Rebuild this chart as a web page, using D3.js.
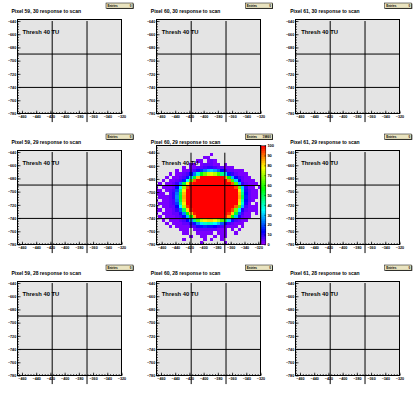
<!DOCTYPE html>
<html>
<head>
<meta charset="utf-8">
<script src="https://cdn.jsdelivr.net/npm/d3@7"></script>
<style>
body { margin: 0; background: #fff; }
svg { display: block; }
text { font-family: "Liberation Sans", Arial, Helvetica, sans-serif; }
</style>
</head>
<body>
<svg width="418" height="393"></svg>
<script>
// pixel numbers of the 3x3 pads
var pixelCols = ["59", "60", "61"];
var pixelRows = ["30", "29", "28"];
var entries = [["0", "0", "0"], ["0", "19860", "0"], ["0", "0", "0"]];
var threshText = "Thresh 40 TU";

var xTicks = [-460, -440, -420, -400, -380, -360, -340, -320];
var yTicks = [-780, -760, -740, -720, -700, -680, -660, -640];
var zTicks = [0, 10, 20, 30, 40, 50, 60, 70, 80, 90, 100];

// pixel boundary lines
var edgeX = [-417.5, -368.5];
var edgeY = [-690, -740.5];

// scan map of pixel 60,29 : 5x5 bins starting at (-470,-780), rows listed top to bottom
var binX0 = -470, binY0 = -780, binSize = 5;
var hitRows = [
  [0,0,0,0,0,0,0,0,0,0, 0,0,0,0,0,0,0,0,0,0, 0,0,0,0,0,0,0,0,0,0, 0],
  [0,0,0,0,0,0,0,0,0,0, 0,0,0,0,0,0,0,0,0,0, 0,0,0,0,0,0,0,0,0,0, 0],
  [0,0,0,0,0,0,0,0,0,0, 0,0,0,0,0,0,2,0,0,0, 0,0,0,0,0,0,0,0,0,0, 0],
  [0,0,0,0,0,0,0,0,0,0, 0,0,0,0,2,3,0,0,0,0, 0,0,0,0,0,0,0,0,0,0, 0],
  [0,0,0,0,0,0,0,0,0,0, 0,0,2,3,0,2,4,2,0,0, 0,0,0,0,0,0,0,0,0,0, 0],
  [0,0,0,0,0,0,0,0,0,0, 2,3,0,3,4,5,4,3,2,0, 2,0,0,0,0,0,0,0,0,0, 0],
  [0,0,0,0,0,0,0,0,2,0, 2,3,4,5,6,8,8,6,5,4, 3,2,2,0,0,0,0,0,0,0, 0],
  [0,0,0,0,0,0,2,0,2,3, 4,6,10,16,22,28,30,26,20,12, 8,5,4,3,2,2,0,0,0,0, 0],
  [0,0,0,0,2,0,2,3,4,7, 12,22,38,55,65,72,75,70,60,45, 30,15,8,5,3,2,2,0,0,0, 0],
  [0,0,0,2,0,2,3,4,7,14, 30,52,82,100,100,100,100,100,100,100, 85,55,28,12,6,4,3,2,0,0, 0],
  [0,0,2,0,2,3,4,6,15,35, 62,90,100,100,100,100,100,100,100,100, 100,88,60,30,12,5,3,2,2,0, 0],
  [0,2,0,2,3,4,8,22,50,78, 95,100,100,100,100,100,100,100,100,100, 100,100,90,62,28,9,4,3,2,2, 0],
  [2,0,2,3,3,5,12,35,68,92, 100,100,100,100,100,100,100,100,100,100, 100,100,100,92,65,30,8,3,2,0, 2],
  [3,2,0,3,4,6,18,45,78,100, 100,100,100,100,100,100,100,100,100,100, 100,100,100,100,78,40,10,4,3,2, 0],
  [2,3,2,0,5,8,22,50,82,100, 100,100,100,100,100,100,100,100,100,100, 100,100,100,100,82,45,12,4,2,2, 0],
  [0,2,3,3,4,8,24,52,85,100, 100,100,100,100,100,100,100,100,100,100, 100,100,100,100,85,48,14,5,3,2, 0],
  [2,0,2,3,5,7,22,50,82,100, 100,100,100,100,100,100,100,100,100,100, 100,100,100,100,80,42,12,4,2,0, 0],
  [0,2,2,3,4,6,18,45,78,100, 100,100,100,100,100,100,100,100,100,100, 100,100,100,100,75,38,10,3,0,2, 0],
  [2,0,3,3,4,5,12,35,70,94, 100,100,100,100,100,100,100,100,100,100, 100,100,100,90,62,28,7,3,2,2, 0],
  [2,2,0,2,3,4,8,20,48,80, 96,100,100,100,100,100,100,100,100,100, 100,100,92,65,32,10,4,2,2,3, 0],
  [2,0,2,3,3,4,5,10,25,55, 82,96,100,100,100,100,100,100,100,100, 100,95,80,50,20,6,3,2,0,2, 0],
  [0,2,0,2,3,3,4,6,12,28, 55,85,98,100,100,100,100,100,100,100, 96,85,58,28,10,4,2,2,0,0, 0],
  [0,0,2,0,2,3,3,4,6,12, 25,45,62,72,78,80,80,76,70,62, 48,30,15,7,4,2,2,0,0,0, 0],
  [0,0,0,2,0,2,3,3,4,5, 8,15,25,32,38,40,38,34,28,20, 12,7,4,3,2,2,0,0,0,0, 0],
  [0,0,0,0,2,0,2,3,3,3, 4,6,10,14,16,15,14,12,9,6, 4,3,3,2,0,2,0,0,0,0, 0],
  [0,0,0,0,0,0,0,2,2,3, 0,3,4,5,5,4,5,4,3,3, 2,0,2,0,2,0,0,0,0,0, 0],
  [0,0,0,0,0,0,0,0,2,2, 0,0,3,2,3,3,2,0,2,2, 2,0,0,2,0,0,0,0,0,0, 0],
  [0,0,0,0,0,0,0,0,0,0, 2,0,0,2,2,0,0,2,0,2, 2,0,0,0,0,0,0,0,0,0, 0],
  [0,0,0,0,0,0,0,0,2,0, 0,0,0,0,2,0,2,0,0,2, 0,0,0,0,0,0,0,0,0,0, 0],
  [0,0,0,0,0,0,0,0,0,0, 0,0,0,2,0,0,0,0,0,0, 2,0,0,0,0,0,0,0,0,0, 0]
];

// ROOT "pretty" palette, 50 levels
function paletteColor(idx) {
  return d3.hsl(280 - (idx + 1) * 5.6, 1, 0.5).toString();
}
function zColor(v) {
  return paletteColor(Math.max(0, Math.min(49, Math.floor(v / 100 * 50))));
}

var svg = d3.select("svg");
svg.append("rect").attr("width", 418).attr("height", 393).attr("fill", "#fff");

var colLeft = [17.5, 156.5, 295.5], rowTop = [19.5, 150.5, 281.5];
var frameW = 104, frameH = 94;
var padW = 139.33, padH = 131;

function drawPad(r, c) {
  var padX = c * padW, padY = r * padH;
  var isMap = (r == 1 && c == 1);
  var fLeft = colLeft[c], fRight = fLeft + frameW;
  var fBottom = rowTop[r] + frameH, fTop = isMap ? 145.5 : rowTop[r];

  var x = d3.scaleLinear().domain(isMap ? [-467.5, -316.8] : [-466.3, -320]).range([fLeft, fRight]);
  var y = d3.scaleLinear().domain(isMap ? [-780, -629] : [-780, -637.7]).range([fBottom, fTop]);

  var g = svg.append("g");
  var clipId = "clip" + r + c;
  g.append("clipPath").attr("id", clipId).append("rect")
    .attr("x", fLeft).attr("y", fTop).attr("width", frameW).attr("height", fBottom - fTop);

  g.append("rect")
    .attr("x", fLeft).attr("y", fTop).attr("width", frameW).attr("height", fBottom - fTop)
    .attr("fill", "#e4e4e4");

  if (isMap) {
    var cells = [];
    hitRows.forEach(function(row, k) {
      var j = hitRows.length - 1 - k;
      row.forEach(function(v, i) { if (v > 0) cells.push({i: i, j: j, v: v}); });
    });
    g.append("g").attr("clip-path", "url(#" + clipId + ")")
      .selectAll("rect").data(cells).enter().append("rect")
      .attr("x", function(d) { return x(binX0 + d.i * binSize); })
      .attr("width", function(d) { return x(binX0 + (d.i + 1) * binSize) - x(binX0 + d.i * binSize); })
      .attr("y", function(d) { return y(binY0 + (d.j + 1) * binSize); })
      .attr("height", function(d) { return y(binY0 + d.j * binSize) - y(binY0 + (d.j + 1) * binSize); })
      .attr("fill", function(d) { return zColor(d.v); })
      .attr("shape-rendering", "crispEdges");

    // palette axis
    var z = d3.scaleLinear().domain([0, 100]).range([fBottom, fTop]);
    var levels = d3.range(0, 100, 2);
    g.selectAll(".lev").data(levels).enter().append("rect")
      .attr("x", fRight + 0.5).attr("width", 4.8)
      .attr("y", function(d) { return z(d + 2); })
      .attr("height", function(d) { return z(d) - z(d + 2); })
      .attr("fill", function(d, i) { return paletteColor(i); })
      .attr("shape-rendering", "crispEdges");
    g.append("rect").attr("x", fRight + 0.5).attr("y", fTop).attr("width", 4.8).attr("height", fBottom - fTop)
      .attr("fill", "none").attr("stroke", "#000").attr("stroke-width", 0.5);
    var gz = g.append("g").attr("transform", "translate(" + (fRight + 5.3) + ",0)")
      .call(d3.axisRight(z).tickValues(zTicks).tickSizeInner(-1.5).tickSizeOuter(0).tickPadding(1.6));
    gz.select(".domain").remove();
    gz.attr("font-size", 4).attr("font-family", null).attr("font-weight", "bold");
    gz.selectAll("line").attr("stroke-width", 0.5);
  }

  g.append("rect")
    .attr("x", fLeft).attr("y", fTop).attr("width", frameW).attr("height", fBottom - fTop)
    .attr("fill", "none").attr("stroke", "#000").attr("stroke-width", 1);

  // axes, ticks pointing into the frame
  var xMinor = d3.range(-464, x.domain()[1] + 0.01, 4).filter(function(v) { return v >= x.domain()[0]; });
  var yMinor = d3.range(-776, y.domain()[1] + 0.01, 4);
  var gxm = g.append("g").attr("transform", "translate(0," + fBottom + ")")
    .call(d3.axisBottom(x).tickValues(xMinor).tickFormat("").tickSizeInner(-1.4).tickSizeOuter(0));
  var gx = g.append("g").attr("transform", "translate(0," + fBottom + ")")
    .call(d3.axisBottom(x).tickValues(xTicks).tickSizeInner(-2.8).tickSizeOuter(0).tickPadding(2.2));
  var gym = g.append("g").attr("transform", "translate(" + fLeft + ",0)")
    .call(d3.axisLeft(y).tickValues(yMinor).tickFormat("").tickSizeInner(-1.5).tickSizeOuter(0));
  var gy = g.append("g").attr("transform", "translate(" + fLeft + ",0)")
    .call(d3.axisLeft(y).tickValues(yTicks).tickSizeInner(-3).tickSizeOuter(0).tickPadding(1.3));
  [gxm, gx, gym, gy].forEach(function(a) {
    a.select(".domain").remove();
    a.attr("font-size", 3.7).attr("font-family", null).attr("font-weight", "bold");
    a.selectAll("line").attr("stroke-width", 0.7);
  });

  // pixel boundaries
  edgeX.forEach(function(ex) {
    g.append("line").attr("x1", x(ex)).attr("x2", x(ex)).attr("y1", y(-640)).attr("y2", y(-793))
      .attr("stroke", "#000").attr("stroke-width", 1);
  });
  edgeY.forEach(function(ey) {
    g.append("line").attr("x1", fLeft).attr("x2", fRight).attr("y1", y(ey)).attr("y2", y(ey))
      .attr("stroke", "#000").attr("stroke-width", 1);
  });

  // title
  g.append("text").attr("x", padX + 11.5).attr("y", padY + 13.3)
    .attr("font-size", 5).attr("font-weight", "bold")
    .text("Pixel " + pixelCols[c] + ", " + pixelRows[r] + " response to scan");

  g.append("text").attr("x", padX + 22.5).attr("y", padY + 34.3)
    .attr("font-size", 5.8).attr("font-weight", "bold")
    .text(threshText);

  // stats box
  var bx = padX + 106, by = padY + 3;
  g.append("rect").attr("x", bx + 0.6).attr("y", by + 0.6).attr("width", 27).attr("height", 5.2).attr("fill", "#000");
  g.append("rect").attr("x", bx).attr("y", by).attr("width", 27).attr("height", 5.2)
    .attr("fill", "#e9e3bf").attr("stroke", "#000").attr("stroke-width", 0.5);
  g.append("text").attr("x", bx + 1.5).attr("y", by + 3.9).attr("font-size", 3).attr("font-weight", "bold").text("Entries");
  g.append("text").attr("x", bx + 25.5).attr("y", by + 3.9).attr("font-size", 3).attr("font-weight", "bold")
    .attr("text-anchor", "end").text(entries[r][c]);
}

for (var r = 0; r < 3; r++) {
  for (var c = 0; c < 3; c++) drawPad(r, c);
}
</script>
</body>
</html>
